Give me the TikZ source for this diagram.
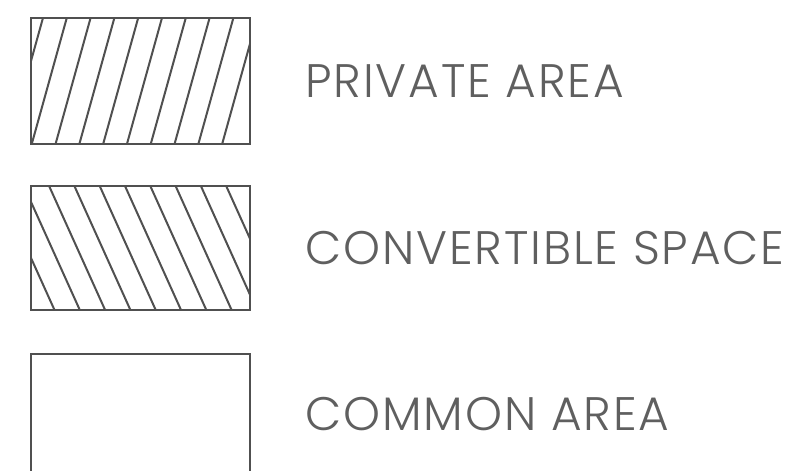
\documentclass[tikz,border=0pt]{standalone}
\usepackage{fontspec}
\setmainfont{Poppins Light}
\definecolor{ink}{RGB}{80,80,80}
\definecolor{lettering}{RGB}{95,95,95}

\begin{document}
\begin{tikzpicture}[x=1pt,y=-1pt]
\tikzset{
  legbox/.style={draw=ink,line width=2.4pt,minimum width=219pt,inner sep=0pt,anchor=north west},
  hatchline/.style={draw=ink,line width=2pt},
  privhatch/.style={path picture={\foreach \k in {0,...,9}
    \draw[hatchline] ([xshift=11.7pt+\k*23.8pt]path picture bounding box.north west) -- ++(-35pt,-126pt);}},
  convhatch/.style={path picture={\foreach \k in {-2,...,7}
    \draw[hatchline] ([xshift=18pt+\k*25.3pt]path picture bounding box.north west) -- ++(56pt,-124pt);}},
  legtext/.style={anchor=west,inner sep=0pt,text=lettering,font=\fontsize{47}{50}\selectfont\addfontfeature{LetterSpace=4}}
}
\useasboundingbox (0,0) rectangle (795,471);
% legend boxes
\node[legbox,privhatch,minimum height=126pt] (private) at (30,17) {};
\node[legbox,convhatch,minimum height=124pt] (convertible) at (30,185) {};
\node[legbox,minimum height=130pt] (common) at (30,353) {};
% labels
\node[legtext] (privatelabel) at (305,81.5) {PRIVATE AREA};
\node[legtext] (convertiblelabel) at (305,248) {CONVERTIBLE SPACE};
\node[legtext] (commonlabel) at (305,414) {COMMON AREA};
\end{tikzpicture}
\end{document}
